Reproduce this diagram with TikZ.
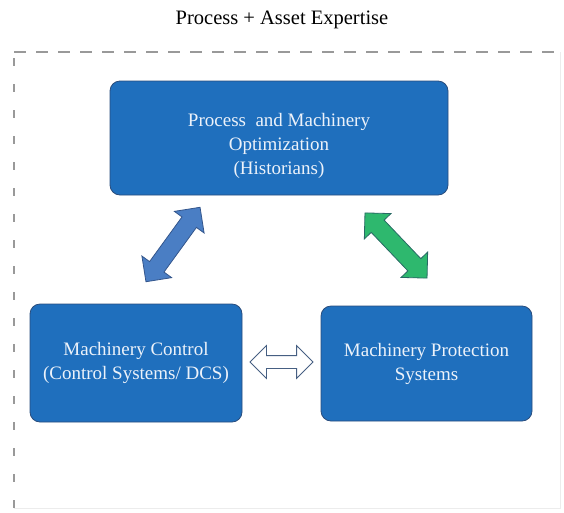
\documentclass[tikz,border=0pt]{standalone}
\usepackage{fontspec}
\setmainfont{Liberation Serif}
\usepackage{tikz}
\usetikzlibrary{arrows.meta, positioning, shapes.arrows}

\definecolor{boxfill}{RGB}{31,111,189}
\definecolor{boxline}{RGB}{41,76,124}
\definecolor{boxtext}{RGB}{236,242,250}
\definecolor{linkblue}{RGB}{74,126,196}
\definecolor{linkblueline}{RGB}{52,86,140}
\definecolor{linkgreen}{RGB}{46,184,110}
\definecolor{linkgreenline}{RGB}{40,105,100}
\definecolor{linkwhiteline}{RGB}{70,95,130}

\tikzset{
  sysbox/.style={draw=boxline, line width=0.8pt, fill=boxfill, rounded corners=10pt,
    text=boxtext, align=center, font=\fontsize{19}{24}\selectfont},
  fatlink/.style={double arrow, draw, line width=0.8pt, inner xsep=0pt, inner ysep=8.5pt,
    double arrow head extend=9.5pt, double arrow tip angle=90},
}

\begin{document}
\begin{tikzpicture}[x=1pt,y=-1pt]
\useasboundingbox (0,0) rectangle (564,512);

% outer frame
\draw[gray!80, line width=1.2pt, dash pattern=on 12pt off 10pt] (14,52) -- (560,52);
\draw[gray!80, line width=1.2pt, dash pattern=on 8pt off 18pt] (14,58) -- (14,508);
\draw[gray!15, line width=0.6pt] (560,52) -- (560,508) -- (14,508);

\node[font=\fontsize{20.5}{24}\selectfont] (Title) at (282,20) {Process + Asset Expertise};

\node[sysbox, minimum width=338pt, minimum height=114pt] (Opt) at (279,138)
  {\rule{0pt}{29pt}Process\ \ and Machinery\\Optimization\\(Historians)};
\node[sysbox, minimum width=212pt, minimum height=118pt] (Ctrl) at (136,363)
  {Machinery Control\\(Control Systems/ DCS)};
\node[sysbox, minimum width=211pt, minimum height=115pt] (Prot) at (426.5,363.5)
  {Machinery Protection\\Systems};

% links
\node[fatlink, fill=linkblue, draw=linkblueline, minimum height=92pt,
  rotate=54] (CtrlOpt) at (173,244.5) {};
\node[fatlink, fill=linkgreen, draw=linkgreenline, minimum height=90pt,
  rotate=-46.4] (OptProt) at (396,245.5) {};
\node[fatlink, fill=white, draw=linkwhiteline, minimum height=63pt, inner ysep=6pt,
  double arrow head extend=10pt] (CtrlProt) at (281.5,362) {};

\end{tikzpicture}
\end{document}
